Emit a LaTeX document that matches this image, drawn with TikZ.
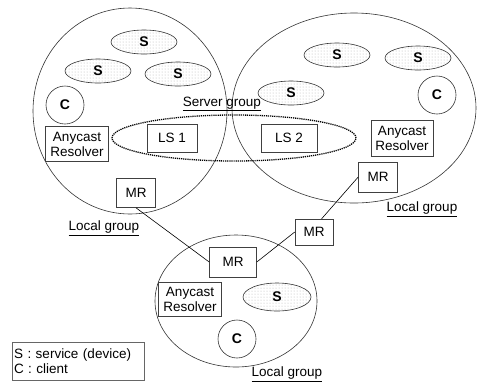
\documentclass[tikz,border=0pt]{standalone}
\usepackage{fontspec}
\setmainfont{Liberation Sans}
\usetikzlibrary{shapes.geometric,patterns}

\tikzset{
  box/.style={draw=black!75, line width=0.6pt, fill=white, font=\fontsize{13.5}{15}\selectfont, align=center, inner sep=1pt},
  srv/.style={ellipse, draw=black!80, line width=0.6pt, pattern=dots, pattern color=black!30, minimum width=66pt, minimum height=24pt, inner sep=0pt, font=\fontsize{14}{15}\selectfont\bfseries},
  cli/.style={circle, draw=black!80, line width=0.6pt, minimum size=38pt, inner sep=0pt, font=\fontsize{14}{15}\selectfont\bfseries},
  lbl/.style={font=\fontsize{13.5}{15}\selectfont, inner sep=0pt},
  group/.style={draw=black!80, line width=0.6pt}
}

\begin{document}
\begin{tikzpicture}[x=1pt, y=-1pt]
		%%%%% START %%%%%
		\useasboundingbox (0, 0) rectangle (478, 384);

		% local groups
		\draw[group] (130, 111) ellipse [x radius=97pt, y radius=103pt];
		\draw[group] (354, 108) ellipse [x radius=122pt, y radius=95pt];
		\draw[group] (236, 301) ellipse [x radius=81pt, y radius=66pt];

		% server group
		\draw[line width=1.3pt, dash pattern=on 1.2pt off 0.9pt] (234, 138) ellipse [x radius=122pt, y radius=23pt];
		\node[lbl] (sg) at (222, 104) {\underline{Server group}};

		% left group
		\node[srv] (s1) at (144, 42) {S};
		\node[srv] (s2) at (98, 71) {S};
		\node[srv] (s3) at (178, 74) {S};
		\node[cli] (c1) at (65, 105) {C};
		\node[box, minimum width=63pt, minimum height=35pt] (ar1) at (77, 144) {Anycast\\Resolver};
		\node[box, minimum width=50pt, minimum height=28pt] (ls1) at (172, 138) {LS 1};
		\node[box, minimum width=39pt, minimum height=29pt] (mr1) at (136, 193) {MR};
		\node[lbl] (lg1) at (104, 228) {\underline{Local group}};

		% right group
		\node[srv] (s4) at (337, 55) {S};
		\node[srv] (s5) at (418, 58) {S};
		\node[srv] (s6) at (291, 93) {S};
		\node[cli] (c2) at (437, 95) {C};
		\node[box, minimum width=56pt, minimum height=28pt] (ls2) at (289, 138) {LS 2};
		\node[box, minimum width=62pt, minimum height=36pt] (ar2) at (402, 138) {Anycast\\Resolver};
		\node[box, minimum width=39pt, minimum height=30pt] (mr2) at (378, 177) {MR};
		\node[lbl] (lg2) at (422, 209) {\underline{Local group}};

		% bottom group
		\node[box, minimum width=38pt, minimum height=26pt] (mr3) at (314, 232) {MR};
		\node[box, minimum width=47pt, minimum height=30pt] (mr4) at (233, 262) {MR};
		\node[box, minimum width=63pt, minimum height=34pt] (ar3) at (190, 299) {Anycast\\Resolver};
		\node[srv, minimum width=68pt, minimum height=28pt] (s7) at (277, 297) {S};
		\node[cli] (c3) at (237, 339) {C};
		\node[lbl] (lg3) at (287, 374) {\underline{Local group}};

		% links
		\draw[line width=0.6pt] (mr1.south) -- (mr4.west);
		\draw[line width=0.6pt] (mr4.east) -- (mr3.west);
		\draw[line width=0.6pt] (mr3.60) -- (mr2.west);

		% legend
		\node[box, draw=black!60, align=left, minimum width=132pt, minimum height=38pt, text width=128pt] (key) at (78, 361) {S : service (device)\\C : client};
		%%%%% END %%%%%
\end{tikzpicture}
\end{document}
